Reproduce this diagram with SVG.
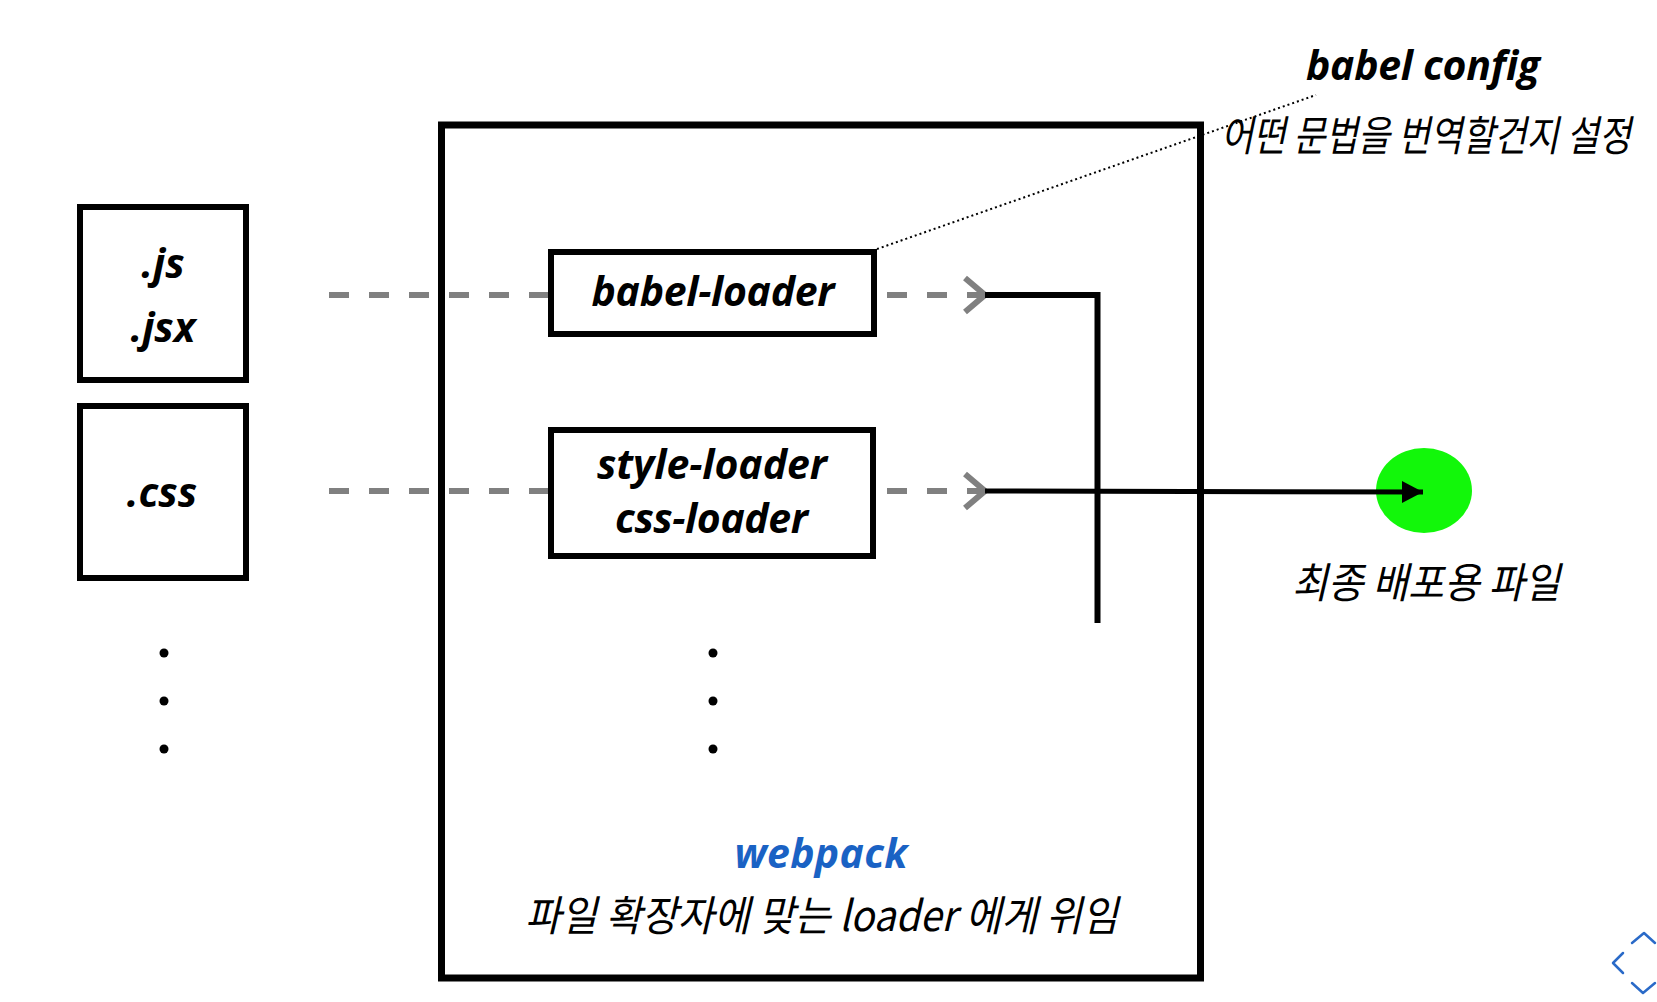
<svg xmlns="http://www.w3.org/2000/svg" width="1657" height="1002" viewBox="0 0 1657 1002">
<defs>
<style>
.box{fill:none;stroke:#000;stroke-width:6}
.big{fill:none;stroke:#000;stroke-width:7}
.lbl{font-family:"Open Sans","Noto Sans",sans-serif;font-weight:700;font-style:italic;font-size:41px;fill:#000;text-anchor:middle}
.ko{font-family:"Noto Sans CJK KR","Noto Sans",sans-serif;font-style:italic;font-weight:400;font-size:42px;fill:#000}
.dash{fill:none;stroke:#808080;stroke-width:6;stroke-dasharray:20 20}
.solid{fill:none;stroke:#000;stroke-width:6}
.dot{fill:#000}
.nav{fill:none;stroke:#2a6ac8;stroke-width:2.5;stroke-linecap:round;stroke-linejoin:round}
</style>
<marker id="chev" markerUnits="userSpaceOnUse" viewBox="0 0 24 40" refX="22" refY="20" markerWidth="24" markerHeight="40" orient="auto">
<path d="M2 3 L22 20 L2 37" fill="none" stroke="#808080" stroke-width="6" stroke-dasharray="none"/>
</marker>
<marker id="tri" markerUnits="userSpaceOnUse" viewBox="0 0 22 24" refX="21" refY="12" markerWidth="22" markerHeight="24" orient="auto">
<path d="M0 1 L21 12 L0 23 Z" fill="#000"/>
</marker>
</defs>
<rect width="1657" height="1002" fill="#fff"/>

<g id="webpack">
<rect class="big" x="441.5" y="125" width="759" height="853"/>
<text x="821" y="868" class="lbl" style="fill:#1a62c4" textLength="173">webpack</text>
<text x="525" y="931" class="ko" textLength="593" lengthAdjust="spacingAndGlyphs">파일 확장자에 맞는 loader 에게 위임</text>
</g>

<g id="js-files">
<rect class="box" x="80" y="207" width="166" height="173"/>
<text x="163" y="278" class="lbl">.js</text>
<text x="163" y="342" class="lbl">.jsx</text>
</g>

<g id="css-files">
<rect class="box" x="80" y="406" width="166" height="172"/>
<text x="162" y="507" class="lbl">.css</text>
</g>

<g id="more-files">
<circle class="dot" cx="164" cy="653" r="4.5"/>
<circle class="dot" cx="164" cy="701" r="4.5"/>
<circle class="dot" cx="164" cy="749" r="4.5"/>
</g>

<g id="babel-loader">
<rect class="box" x="551" y="252" width="323" height="82"/>
<text x="713" y="306" class="lbl" textLength="243">babel-loader</text>
</g>

<g id="style-css-loader">
<rect class="box" x="551" y="430" width="322" height="126"/>
<text x="712" y="479" class="lbl" textLength="230">style-loader</text>
<text x="711.5" y="533" class="lbl" textLength="193">css-loader</text>
</g>

<g id="more-loaders">
<circle class="dot" cx="713" cy="653" r="4.5"/>
<circle class="dot" cx="713" cy="701" r="4.5"/>
<circle class="dot" cx="713" cy="749" r="4.5"/>
</g>

<g id="babel-config">
<text x="1423" y="80" class="lbl" textLength="234">babel config</text>
<text x="1221" y="151" class="ko" textLength="410" lengthAdjust="spacingAndGlyphs">어떤 문법을 번역할건지 설정</text>
</g>

<g id="output-file">
<ellipse cx="1424" cy="490.5" rx="48" ry="42.5" fill="#12f70a"/>
<text x="1292" y="598" class="ko" textLength="268" lengthAdjust="spacingAndGlyphs">최종 배포용 파일</text>
</g>

<g id="connectors">
<line class="dash" x1="329" y1="295" x2="548" y2="295"/>
<line class="dash" x1="329" y1="491" x2="548" y2="491"/>
<line class="dash" x1="887" y1="295" x2="985" y2="295" marker-end="url(#chev)"/>
<line class="dash" x1="887" y1="491" x2="985" y2="491" marker-end="url(#chev)"/>
<polyline class="solid" points="985,295 1097.5,295 1097.5,623"/>
<line x1="985" y1="491" x2="1423" y2="492" stroke="#000" stroke-width="5" marker-end="url(#tri)"/>
<line x1="877" y1="249" x2="1316" y2="95" stroke="#000" stroke-width="2" stroke-dasharray="2 3"/>
</g>

<g id="nav-icon">
<path class="nav" d="M1632 943 L1644 933 L1655 943"/>
<path class="nav" d="M1623 953 L1613 963 L1623 973"/>
<path class="nav" d="M1632 983 L1643 993 L1655 983"/>
</g>
</svg>
